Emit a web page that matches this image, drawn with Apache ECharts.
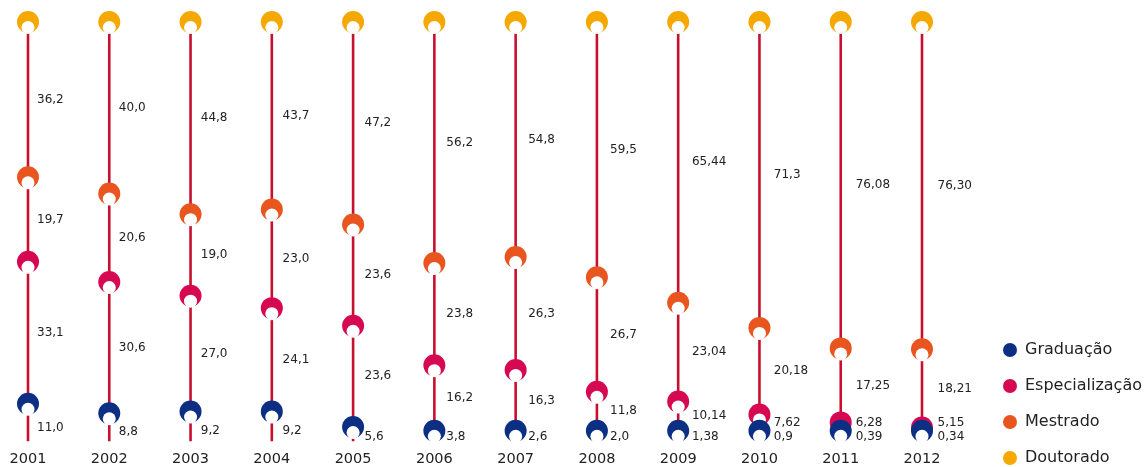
<!DOCTYPE html>
<html>
<head>
<meta charset="utf-8">
<script src="https://cdn.jsdelivr.net/npm/echarts@6/dist/echarts.min.js"></script>
<style>
html,body{margin:0;padding:0;background:#fff;}
#chart{width:1147px;height:467px;}
</style>
</head>
<body>
<div id="chart"></div>
<script>
// ---- Data (percentages, as printed) ----
const years = ['2001','2002','2003','2004','2005','2006','2007','2008','2009','2010','2011','2012'];
const graduacao      = ['11,0','8,8','9,2','9,2','5,6','3,8','2,6','2,0','1,38','0,9','0,39','0,34'];
const especializacao = ['33,1','30,6','27,0','24,1','23,6','16,2','16,3','11,8','10,14','7,62','6,28','5,15'];
const mestrado       = ['19,7','20,6','19,0','23,0','23,6','23,8','26,3','26,7','23,04','20,18','17,25','18,21'];
const doutorado      = ['36,2','40,0','44,8','43,7','47,2','56,2','54,8','59,5','65,44','71,3','76,08','76,30'];
const seriesNames = ['Graduação','Especialização','Mestrado','Doutorado'];

// ---- Style / layout constants ----
const COLORS = {
  'Graduação': '#0c2f84',
  'Especialização': '#d60852',
  'Mestrado': '#e8551f',
  'Doutorado': '#f5a800'
};
const LINE_COLOR = '#c8102e';
const GRAD_MIN_POS = 4.7;   // lowest drawn position for the Graduação marker
const GRAD_LABEL_MIN = 3.4; // lowest drawn position for the Graduação label
const LABEL_GAP = 3.2;      // minimum gap between stacked bottom labels
const LINE_END = 2.3;       // where the vertical line stops

const num = s => parseFloat(s.replace(',', '.'));
const g = graduacao.map(num), e = especializacao.map(num), m = mestrado.map(num), d = doutorado.map(num);

const gradPos = g.map(v => Math.max(v, GRAD_MIN_POS));
const cumE = g.map((v, i) => v + e[i]);
const cumM = cumE.map((v, i) => v + m[i]);
const cumD = cumM.map((v, i) => v + d[i]);

const markerData = {
  'Graduação': gradPos.map((v, i) => [i, v]),
  'Especialização': cumE.map((v, i) => [i, v]),
  'Mestrado': cumM.map((v, i) => [i, v]),
  'Doutorado': cumD.map((v, i) => [i, v])
};

// label positions: middle of each segment
const labelItems = [];
const labelTexts = [];
years.forEach((y, i) => {
  const gl = Math.max(gradPos[i] / 2, GRAD_LABEL_MIN);
  const el = Math.max((cumE[i] + gradPos[i]) / 2, gl + LABEL_GAP);
  const ml = (cumM[i] + cumE[i]) / 2;
  const dl = (cumD[i] + cumM[i]) / 2;
  labelItems.push([i, dl]); labelTexts.push(doutorado[i]);
  labelItems.push([i, ml]); labelTexts.push(mestrado[i]);
  labelItems.push([i, el]); labelTexts.push(especializacao[i]);
  labelItems.push([i, gl]); labelTexts.push(graduacao[i]);
});

function markerRender(color) {
  return function (params, api) {
    const p = api.coord([api.value(0), api.value(1)]);
    return {
      type: 'group',
      children: [
        { type: 'circle', shape: { cx: p[0], cy: p[1], r: 11 }, style: { fill: color } },
        { type: 'circle', shape: { cx: p[0], cy: p[1] + 5.5, r: 6.5 }, style: { fill: '#ffffff' } }
      ]
    };
  };
}

const chart = echarts.init(document.getElementById('chart'));

const series = [];
series.push({
  type: 'custom',
  name: 'linhas',
  z: 1,
  silent: true,
  data: years.map((y, i) => [i, 100, LINE_END]),
  renderItem: function (params, api) {
    const a = api.coord([api.value(0), api.value(1)]);
    const b = api.coord([api.value(0), api.value(2)]);
    return {
      type: 'line',
      shape: { x1: a[0], y1: a[1], x2: b[0], y2: b[1] },
      style: { stroke: LINE_COLOR, lineWidth: 2.6 }
    };
  }
});
['Doutorado', 'Mestrado', 'Especialização', 'Graduação'].forEach((name, k) => {
  series.push({
    type: 'custom',
    name: name,
    z: 2 + k,
    itemStyle: { color: COLORS[name] },
    data: markerData[name],
    renderItem: markerRender(COLORS[name])
  });
});
series.push({
  type: 'custom',
  name: 'rotulos',
  z: 10,
  silent: true,
  data: labelItems,
  renderItem: function (params, api) {
    const i = api.value(0);
    const p = api.coord([i, api.value(1)]);
    return {
      type: 'text',
      x: p[0] + 9 + 0.6 * i,
      y: p[1],
      style: {
        text: labelTexts[params.dataIndex],
        fill: '#222222',
        fontSize: 12,
        fontFamily: 'DejaVu Sans',
        align: 'left',
        verticalAlign: 'middle'
      }
    };
  }
});

chart.setOption({
  animation: false,
  backgroundColor: '#ffffff',
  grid: { left: 28, right: 225, top: 22, height: 430 },
  xAxis: {
    type: 'category',
    data: years,
    boundaryGap: false,
    axisLine: { show: false },
    axisTick: { show: false },
    splitLine: { show: false },
    axisLabel: { color: '#222222', fontSize: 14.5, fontFamily: 'DejaVu Sans', margin: 1 }
  },
  yAxis: {
    type: 'value',
    min: 0,
    max: 100,
    show: false
  },
  legend: {
    data: seriesNames,
    orient: 'vertical',
    left: 1003,
    top: 342,
    padding: 0,
    icon: 'circle',
    itemWidth: 20,
    itemHeight: 14,
    itemGap: 20,
    textStyle: { color: '#222222', fontSize: 16, lineHeight: 16, fontFamily: 'DejaVu Sans' }
  },
  series: series
});
</script>
</body>
</html>
